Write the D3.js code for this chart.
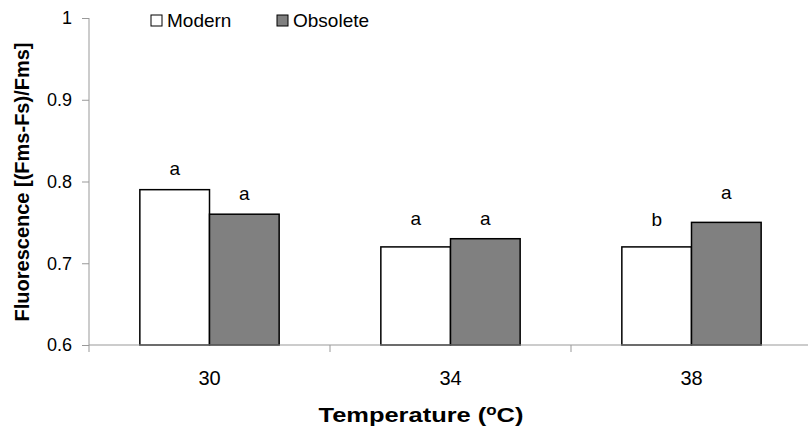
<!DOCTYPE html>
<html>
<head>
<meta charset="utf-8">
<script src="https://cdn.jsdelivr.net/npm/d3@7"></script>
<style>
  body { margin: 0; background: #fff; }
  text { font-family: "Liberation Sans", Arial, sans-serif; fill: #000; }
</style>
</head>
<body>
<svg id="chart" width="808" height="432"></svg>
<script>
// data
var categories = ["30", "34", "38"];
var seriesNames = ["Modern", "Obsolete"];
var modern = [0.79, 0.72, 0.72];
var obsolete = [0.76, 0.73, 0.75];
// significance letters and the level (in y units) they sit at
var modernLetters = ["a", "a", "b"];
var obsoleteLetters = ["a", "a", "a"];
var modernLetterLevel = [0.808, 0.747, 0.745];
var obsoleteLetterLevel = [0.777, 0.747, 0.778];
var yTicks = [0.6, 0.7, 0.8, 0.9, 1];

var svg = d3.select("#chart");

// scales
var y = d3.scaleLinear().domain([0.6, 1]).range([345, 18]);
var x0 = d3.scaleBand().domain(categories).range([89, 812]);
var x1 = d3.scaleBand().domain(seriesNames).range([0, x0.bandwidth()]).paddingOuter(0.73);
var fill = d3.scaleOrdinal().domain(seriesNames).range(["#ffffff", "#808080"]);

var rows = categories.map(function (c, i) {
  return [
    { cat: c, s: "Modern", v: modern[i], lt: modernLetters[i], lv: modernLetterLevel[i] },
    { cat: c, s: "Obsolete", v: obsolete[i], lt: obsoleteLetters[i], lv: obsoleteLetterLevel[i] }
  ];
});

// bars
var groups = svg.selectAll("g.cat")
  .data(rows)
  .enter()
  .append("g")
  .attr("class", "cat")
  .attr("transform", function (d) { return "translate(" + x0(d[0].cat) + ",0)"; });

groups.selectAll("rect")
  .data(function (d) { return d; })
  .enter()
  .append("rect")
  .attr("x", function (d) { return x1(d.s); })
  .attr("y", function (d) { return y(d.v); })
  .attr("width", x1.bandwidth())
  .attr("height", function (d) { return y(0.6) - y(d.v); })
  .attr("fill", function (d) { return fill(d.s); })
  .attr("stroke", "#000")
  .attr("stroke-width", 1.5);

groups.selectAll("text.letter")
  .data(function (d) { return d; })
  .enter()
  .append("text")
  .attr("class", "letter")
  .attr("x", function (d) { return x1(d.s) + x1.bandwidth() / 2; })
  .attr("y", function (d) { return y(d.lv); })
  .attr("text-anchor", "middle")
  .attr("font-size", 19)
  .text(function (d) { return d.lt; });

// y axis
var yAxis = svg.append("g")
  .attr("transform", "translate(89,0)")
  .call(d3.axisLeft(y).tickValues(yTicks).tickSize(7).tickPadding(10)
    .tickFormat(function (d) { return d === 1 ? "1" : d3.format(".1f")(d); }));
yAxis.select(".domain").attr("stroke", "#999").attr("d", "M0," + y(1) + "V" + y(0.6));
yAxis.selectAll(".tick line").attr("stroke", "#999");
yAxis.selectAll(".tick text").attr("font-size", 18).attr("font-family", "Liberation Sans, Arial, sans-serif");

// x axis
var xAxis = svg.append("g")
  .attr("transform", "translate(0," + y(0.6) + ")")
  .call(d3.axisBottom(x0).tickSize(0).tickPadding(26));
xAxis.select(".domain").attr("stroke", "#999").attr("d", "M89,0H812");
xAxis.selectAll(".tick text").attr("font-size", 20).attr("font-family", "Liberation Sans, Arial, sans-serif");
// tick marks between categories
xAxis.selectAll("line.sep")
  .data(categories.concat(["end"]))
  .enter()
  .append("line")
  .attr("class", "sep")
  .attr("x1", function (d, i) { return i < categories.length ? x0(d) : x0.range()[1]; })
  .attr("x2", function (d, i) { return i < categories.length ? x0(d) : x0.range()[1]; })
  .attr("y1", 0)
  .attr("y2", 7)
  .attr("stroke", "#999");

// axis titles (the original is a bit stretched sideways)
var xt = svg.append("text")
  .attr("x", 421)
  .attr("y", 422)
  .attr("text-anchor", "middle")
  .attr("font-size", 21)
  .attr("font-weight", "bold")
  .attr("textLength", 205)
  .attr("lengthAdjust", "spacingAndGlyphs");
xt.append("tspan").text("Temperature (");
xt.append("tspan").attr("font-size", 14).attr("dy", -7).text("o");
xt.append("tspan").attr("dy", 7).text("C)");

svg.append("text")
  .attr("transform", "translate(29,182) rotate(-90)")
  .attr("text-anchor", "middle")
  .attr("font-size", 20)
  .attr("font-weight", "bold")
  .text("Fluorescence [(Fms-Fs)/Fms]");

// legend
var legend = svg.selectAll("g.legend")
  .data(seriesNames)
  .enter()
  .append("g")
  .attr("class", "legend")
  .attr("transform", function (d, i) { return "translate(" + [151, 277][i] + ",0)"; });
legend.append("rect")
  .attr("x", 0).attr("y", 15)
  .attr("width", 11).attr("height", 11)
  .attr("fill", function (d) { return fill(d); })
  .attr("stroke", "#000");
legend.append("text")
  .attr("x", 16).attr("y", 27)
  .attr("font-size", 19)
  .text(function (d) { return d; });
</script>
</body>
</html>
